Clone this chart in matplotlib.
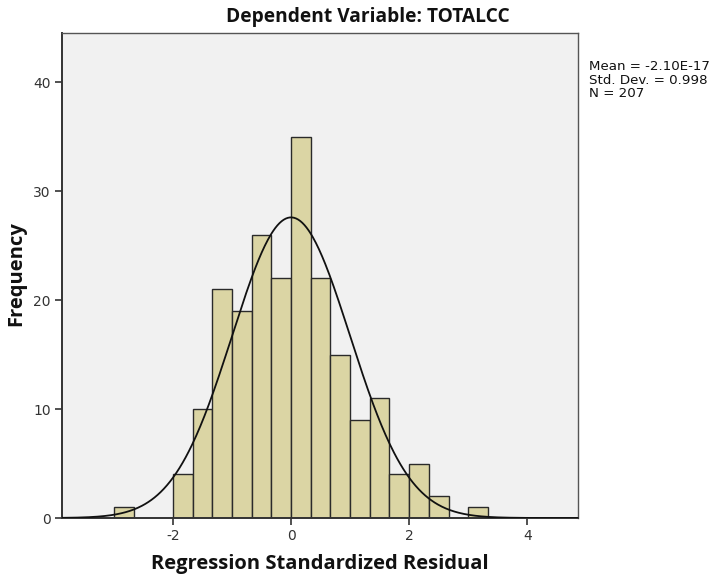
import numpy as np
import matplotlib
matplotlib.use("Agg")
import matplotlib.pyplot as plt

# Histogram of regression standardized residuals (bin width 1/3)
bin_edges = np.arange(-3.0, 3.0 + 1/3 + 1e-9, 1/3)
counts = [1, 0, 0, 4, 10, 21, 19, 26, 22, 35, 22, 15, 9, 11, 4, 5, 2, 0, 1]
mean = -2.10e-17
std = 0.998
n = 207

x_ticks = [-2, 0, 2, 4]
y_ticks = [0, 10, 20, 30, 40]

fig = plt.figure(figsize=(7.16, 5.77), dpi=100)
fig.patch.set_facecolor("white")
ax = fig.add_axes([62/716, 1 - 518/577, (578 - 62)/716, (518 - 33)/577])
ax.set_facecolor("#f1f1f1")

lefts = bin_edges[:-1]
width = bin_edges[1] - bin_edges[0]
ax.bar(lefts, counts, width=width, align="edge", color="#dbd5a4",
       edgecolor="#2a2a2a", linewidth=1.0, zorder=2)

# Fitted normal curve scaled to counts
xs = np.linspace(-3.9, 4.9, 500)
pdf = np.exp(-0.5 * ((xs - mean) / std) ** 2) / (std * np.sqrt(2 * np.pi))
ax.plot(xs, n * width * pdf, color="#111111", linewidth=1.3, zorder=3)

ax.set_xlim(-3.88, 4.86)
ax.set_ylim(0, 44.5)
ax.set_xticks(x_ticks)
ax.set_yticks(y_ticks)
ax.set_xticklabels([str(v) for v in x_ticks])
ax.set_yticklabels([str(v) for v in y_ticks])

narrow = ["Liberation Sans Narrow", "DejaVu Sans"]
for lbl in ax.get_xticklabels() + ax.get_yticklabels():
    lbl.set_family(narrow)
    lbl.set_fontsize(10)
    lbl.set_color("#333333")

ax.tick_params(direction="out", length=5, width=1.2, color="#333333", pad=3)
for side in ["left", "bottom"]:
    ax.spines[side].set_color("#333333")
    ax.spines[side].set_linewidth(1.4)
for side in ["top", "right"]:
    ax.spines[side].set_color("#555555")
    ax.spines[side].set_linewidth(1.0)

bold_family = ["Open Sans", "DejaVu Sans"]
fig.text(368/716, 1 - 17/577, "Dependent Variable: TOTALCC", ha="center", va="center",
         fontsize=13.8, fontweight="bold", family=bold_family, color="#111111")
fig.text(16/716, 1 - 274/577, "Frequency", ha="center", va="center", rotation=90,
         fontsize=14.5, fontweight="bold", family=bold_family, color="#111111")
fig.text(320/716, 1 - 564/577, "Regression Standardized Residual", ha="center", va="center",
         fontsize=14.5, fontweight="bold", family=bold_family, color="#111111")

fig.text(589/716, 1 - 60/577,
         f"Mean = -2.10E-17\nStd. Dev. = {std:.3f}\nN = {n}",
         ha="left", va="top", fontsize=9.6, linespacing=1.05,
         family=["DejaVu Sans"], color="#111111")

fig.savefig("out.png", dpi=100)
